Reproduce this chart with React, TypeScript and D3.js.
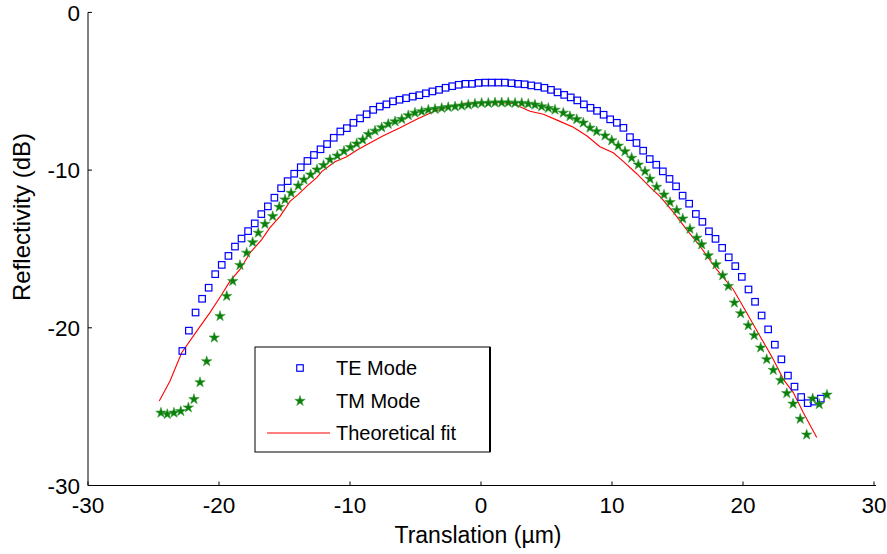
import React from "react";
import * as d3 from "d3";

const xTicks = [-30, -20, -10, 0, 10, 20, 30];
const yTicks = [0, -10, -20, -30];

const teX = [-22.8, -22.3, -21.79, -21.29, -20.79, -20.29, -19.79, -19.28, -18.78, -18.28, -17.78, -17.27, -16.77, -16.27, -15.77, -15.26, -14.76, -14.26, -13.76, -13.25, -12.75, -12.25, -11.75, -11.24, -10.74, -10.24, -9.74, -9.23, -8.73, -8.23, -7.73, -7.22, -6.72, -6.22, -5.72, -5.21, -4.71, -4.21, -3.71, -3.2, -2.7, -2.2, -1.7, -1.19, -0.69, -0.19, 0.32, 0.82, 1.32, 1.82, 2.33, 2.83, 3.33, 3.83, 4.34, 4.84, 5.34, 5.84, 6.35, 6.85, 7.35, 7.85, 8.36, 8.86, 9.36, 9.86, 10.37, 10.87, 11.37, 11.87, 12.38, 12.88, 13.38, 13.88, 14.39, 14.89, 15.39, 15.89, 16.4, 16.9, 17.4, 17.9, 18.41, 18.91, 19.41, 19.91, 20.42, 20.92, 21.42, 21.92, 22.43, 22.93, 23.43, 23.93, 24.44, 24.94, 25.44, 25.94];
const teY = [-21.47, -20.18, -19.03, -18.16, -17.46, -16.6, -16.01, -15.44, -14.85, -14.34, -13.87, -13.38, -12.79, -12.3, -11.75, -11.15, -10.7, -10.23, -9.82, -9.42, -9.04, -8.68, -8.35, -7.95, -7.55, -7.34, -7.0, -6.72, -6.46, -6.18, -5.97, -5.83, -5.64, -5.54, -5.44, -5.34, -5.25, -5.13, -5.01, -4.91, -4.78, -4.68, -4.59, -4.53, -4.53, -4.47, -4.45, -4.45, -4.45, -4.45, -4.49, -4.53, -4.56, -4.63, -4.69, -4.78, -4.91, -5.07, -5.23, -5.39, -5.58, -5.83, -6.05, -6.24, -6.49, -6.78, -7.0, -7.32, -7.91, -8.28, -8.77, -9.3, -9.66, -10.08, -10.56, -11.03, -11.62, -12.13, -12.78, -13.28, -13.88, -14.36, -14.93, -15.53, -16.09, -16.77, -17.57, -18.35, -19.22, -20.1, -21.07, -22.0, -23.03, -23.73, -24.39, -24.78, -24.68, -24.49];

const tmX = [-24.43, -23.95, -23.44, -22.92, -22.34, -21.91, -21.45, -20.94, -20.36, -19.92, -19.41, -18.95, -18.4, -17.89, -17.43, -17.0, -16.49, -15.9, -15.4, -14.96, -14.5, -13.95, -13.51, -13.0, -12.52, -12.02, -11.53, -10.97, -10.46, -9.96, -9.49, -9.03, -8.59, -8.09, -7.58, -7.08, -6.56, -6.05, -5.55, -5.04, -4.53, -4.02, -3.51, -3.0, -2.5, -1.98, -1.47, -0.97, -0.46, 0.05, 0.56, 1.07, 1.58, 2.08, 2.6, 3.11, 3.61, 4.12, 4.63, 5.14, 5.65, 6.28, 6.79, 7.31, 7.81, 8.32, 8.83, 9.47, 9.98, 10.48, 10.99, 11.5, 12.01, 12.52, 12.9, 13.41, 13.97, 14.43, 14.94, 15.4, 15.95, 16.47, 16.85, 17.35, 17.94, 18.45, 18.88, 19.34, 19.82, 20.4, 20.86, 21.35, 21.81, 22.31, 22.88, 23.34, 23.82, 24.37, 24.86, 25.32, 25.82, 26.41];
const tmY = [-25.39, -25.48, -25.39, -25.29, -25.06, -24.53, -23.46, -22.13, -20.63, -19.26, -17.99, -17.04, -16.03, -15.25, -14.58, -13.98, -13.42, -12.93, -12.34, -11.87, -11.45, -10.99, -10.61, -10.29, -9.97, -9.69, -9.34, -9.09, -8.8, -8.55, -8.33, -8.08, -7.73, -7.51, -7.3, -7.08, -6.92, -6.77, -6.53, -6.37, -6.28, -6.18, -6.13, -6.07, -6.01, -5.97, -5.92, -5.86, -5.8, -5.75, -5.75, -5.72, -5.72, -5.72, -5.75, -5.75, -5.8, -5.86, -5.97, -6.07, -6.18, -6.37, -6.59, -6.78, -7.0, -7.32, -7.55, -7.82, -8.12, -8.46, -8.82, -9.23, -9.66, -10.08, -10.56, -11.07, -11.56, -12.04, -12.54, -13.08, -13.73, -14.3, -14.72, -15.42, -15.99, -16.68, -17.36, -18.41, -19.09, -19.85, -20.48, -21.26, -22.0, -22.68, -23.33, -24.15, -24.82, -25.78, -26.78, -24.49, -24.85, -24.25];

const fitX = [-24.56, -23.74, -22.85, -21.7, -20.69, -19.79, -19.16, -18.4, -17.63, -16.74, -16.11, -15.34, -14.58, -13.97, -13.31, -12.54, -12.16, -11.15, -10.25, -9.49, -8.73, -7.46, -6.18, -4.91, -3.64, -2.37, -1.09, 0.18, 1.45, 2.47, 2.98, 3.74, 4.76, 6.03, 7.05, 8.07, 9.08, 10.1, 10.86, 11.89, 12.9, 13.66, 14.68, 15.7, 16.72, 17.99, 19.26, 20.28, 21.3, 22.31, 23.08, 23.84, 24.6, 25.63];
const fitY = [-24.64, -23.37, -21.58, -20.21, -19.04, -17.89, -17.04, -16.3, -15.25, -14.41, -13.65, -12.93, -11.98, -11.56, -11.03, -10.48, -10.1, -9.47, -9.15, -8.74, -8.39, -7.82, -7.32, -6.78, -6.3, -5.96, -5.75, -5.72, -5.72, -5.77, -5.99, -6.27, -6.46, -6.91, -7.28, -7.82, -8.52, -8.9, -9.45, -10.23, -11.08, -11.66, -12.66, -13.77, -14.83, -16.3, -17.57, -19.04, -20.53, -22.0, -23.27, -24.11, -25.37, -26.96];

const legendLabels = ["TE Mode", "TM Mode", "Theoretical fit"];

const W = 887;
const H = 554;
const FONT = "'Liberation Sans', Arial, sans-serif";

export default function App() {
  const x = d3.scaleLinear().domain([-30, 30]).range([88, 874]);
  const y = d3.scaleLinear().domain([-30, 0]).range([485.5, 12.4]);
  const line = d3
    .line<number>()
    .x((_, i) => x(fitX[i]))
    .y((d) => y(d));
  const star = d3.symbol().type(d3.symbolStar).size(34)() as string;
  const sq = 6.5;

  const lgX = 255, lgY = 347, lgW = 235, lgH = 105;
  const rows = [368, 401, 433];
  const yBottom = y(-30);

  return (
    <div style={{ position: "absolute", left: 0, top: 0 }}>
      <svg width={W} height={H} style={{ display: "block", background: "#fff" }} fontFamily={FONT}>
        {/* axes */}
        <line x1={88} y1={y(0)} x2={88} y2={yBottom} stroke="#000" strokeWidth={1} />
        <line x1={88} y1={yBottom} x2={876} y2={yBottom} stroke="#000" strokeWidth={1} />
        {yTicks.map((t) => (
          <g key={"y" + t}>
            <line x1={88} x2={92} y1={y(t)} y2={y(t)} stroke="#000" />
            <text x={80} y={y(t)} dy="0.36em" textAnchor="end" fontSize={22.5} fill="#000">
              {t}
            </text>
          </g>
        ))}
        {xTicks.map((t) => (
          <g key={"x" + t}>
            <line x1={x(t)} x2={x(t)} y1={yBottom} y2={yBottom - 4} stroke="#000" />
            <text x={x(t)} y={513} textAnchor="middle" fontSize={22.5} fill="#000">
              {t}
            </text>
          </g>
        ))}
        <text x={478} y={543} textAnchor="middle" fontSize={23} fill="#000">
          Translation (µm)
        </text>
        <text
          transform={`translate(30,${217}) rotate(-90)`}
          textAnchor="middle"
          fontSize={24}
          fill="#000"
        >
          Reflectivity (dB)
        </text>

        {/* fit line */}
        <path d={line(fitY) || ""} fill="none" stroke="#ff0000" strokeWidth={1.1} />

        {/* TE squares */}
        {teY.map((v, i) => (
          <rect
            key={"te" + i}
            x={x(teX[i]) - sq / 2}
            y={y(v) - sq / 2}
            width={sq}
            height={sq}
            fill="none"
            stroke="#0000ff"
            strokeWidth={1.2}
          />
        ))}

        {/* TM stars */}
        {tmY.map((v, i) => (
          <path
            key={"tm" + i}
            d={star}
            transform={`translate(${x(tmX[i])},${y(v)})`}
            fill="#0a800a"
            stroke="#3a9a3a"
            strokeWidth={0.6}
          />
        ))}

        {/* legend */}
        <rect x={lgX} y={lgY} width={lgW} height={lgH} fill="#fff" stroke="#000" strokeWidth={1} />
        <line x1={lgX + lgW} y1={lgY} x2={lgX + lgW} y2={lgY + lgH} stroke="#000" strokeWidth={2} />
        <rect x={300 - sq / 2} y={rows[0] - sq / 2} width={sq} height={sq} fill="none" stroke="#0000ff" strokeWidth={1.2} />
        <path d={star} transform={`translate(300,${rows[1]})`} fill="#0a800a" stroke="#3a9a3a" strokeWidth={0.6} />
        <line x1={267} x2={330} y1={rows[2]} y2={rows[2]} stroke="#ff0000" strokeWidth={1.1} />
        {legendLabels.map((s, i) => (
          <text key={s} x={336} y={rows[i]} dy="0.36em" fontSize={20} fill="#000">
            {s}
          </text>
        ))}
      </svg>
    </div>
  );
}
